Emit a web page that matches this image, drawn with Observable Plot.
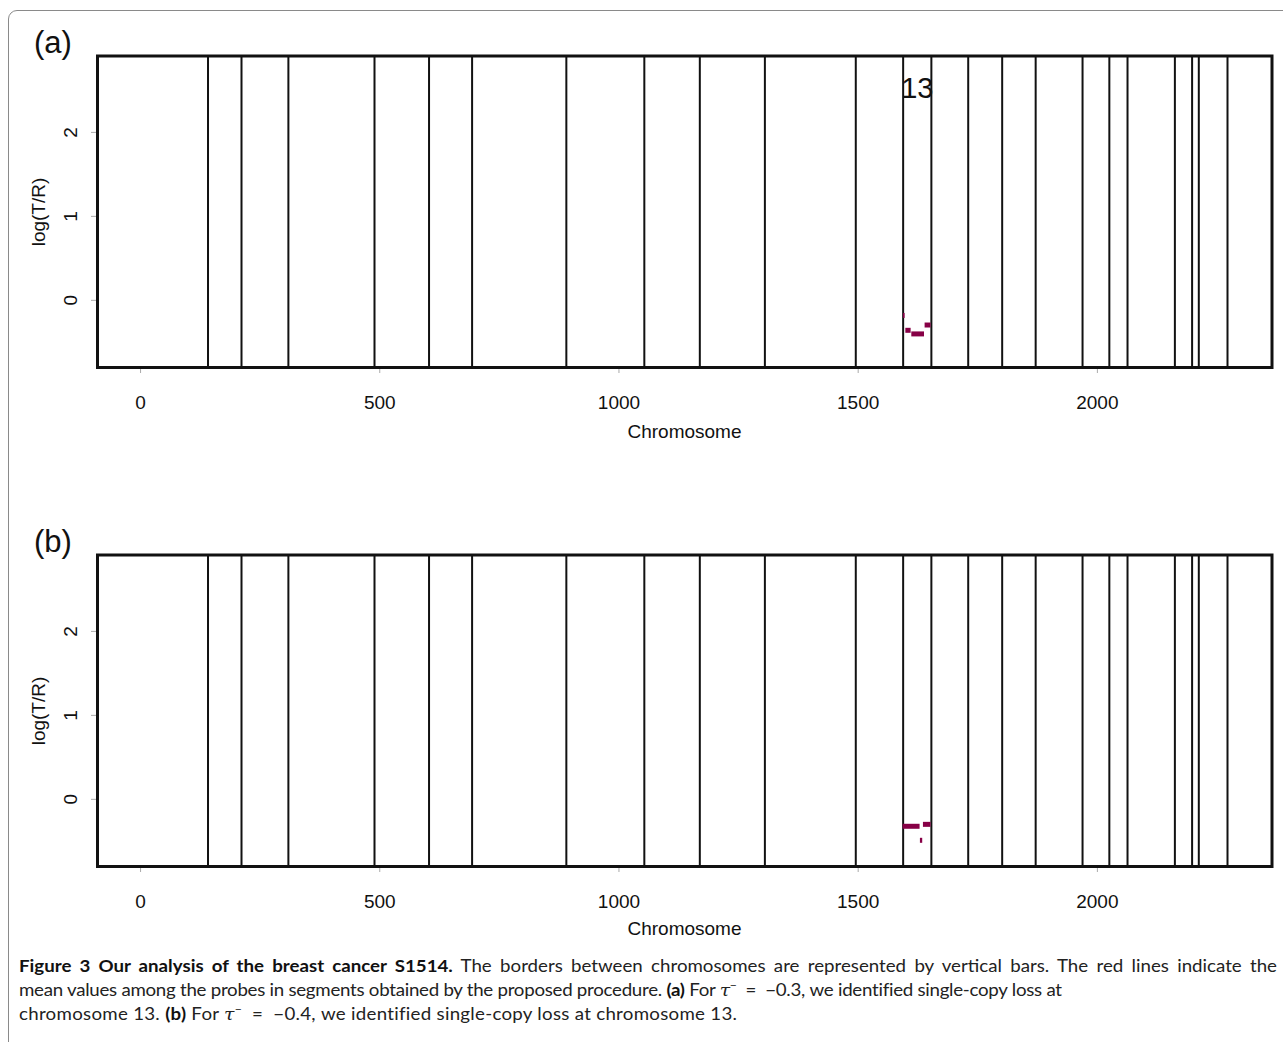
<!DOCTYPE html>
<html>
<head>
<meta charset="utf-8">
<script src="https://cdn.jsdelivr.net/npm/d3@7"></script>
<script src="https://cdn.jsdelivr.net/npm/@observablehq/plot@0.6"></script>
<style>
  html, body { margin: 0; padding: 0; background: #fff; }
  body { width: 1283px; height: 1042px; position: relative; overflow: hidden; font-family: "Liberation Sans", Arial, sans-serif; color: #111; }
  .outer { position: absolute; left: 8px; top: 10px; width: 1320px; height: 1080px; border: 1.5px solid #8a8a8a; border-radius: 9px; box-sizing: border-box; }
  .panel { position: absolute; left: 0; }
  .plab { position: absolute; font-size: 31px; line-height: 31px; left: 34px; color: #111; }
  .ylab { position: absolute; font-size: 19px; line-height: 19px; white-space: nowrap; transform: translate(-50%, -50%) rotate(-90deg); }
  .xlab { position: absolute; font-size: 19px; line-height: 19px; white-space: nowrap; transform: translate(-50%, -50%); }
  .caption { position: absolute; left: 19px; top: 954px; font-family: Lato, "Open Sans", sans-serif; font-size: 17px; line-height: 24px; color: #222; white-space: nowrap; transform-origin: 0 0; }
  .caption > div { display: inline-block; }
  .caption b { font-weight: 700; color: #111; }
  .tau { font-family: "DejaVu Serif", serif; font-style: italic; }
  .caption sup { font-size: 11px; vertical-align: 7px; line-height: 0; }
</style>
</head>
<body>
<div class="outer"></div>
<div class="panel" id="pa" style="top:0px"></div>
<div class="panel" id="pb" style="top:499px"></div>
<div class="plab" style="top:27px">(a)</div>
<div class="plab" style="top:526px">(b)</div>
<div class="ylab" style="left:38px; top:212px">log(T/R)</div>
<div class="ylab" style="left:38px; top:711px">log(T/R)</div>
<div class="xlab" style="left:684.5px; top:431px">Chromosome</div>
<div class="xlab" style="left:684.5px; top:928px">Chromosome</div>
<div class="caption" id="cap">
<div id="cap1"><b>Figure 3 Our analysis of the breast cancer S1514.</b> The borders between chromosomes are represented by vertical bars. The red lines indicate the</div><br>
<div id="cap2">mean values among the probes in segments obtained by the proposed procedure. <b>(a)</b> For <span class="tau">τ</span><sup>−</sup> &nbsp;= &nbsp;−0.3, we identified single-copy loss at</div><br>
<div id="cap3">chromosome 13. <b>(b)</b> For <span class="tau">τ</span><sup>−</sup> &nbsp;= &nbsp;−0.4, we identified single-copy loss at chromosome 13.</div>
</div>
<script>
// Chromosome borders (probe index at end of each chromosome 1..23)
const chromosomeEnds = [141, 211, 309, 489, 603, 693, 890, 1053, 1169, 1305, 1495, 1594, 1653, 1730, 1801, 1871, 1969, 2025, 2063, 2162, 2198, 2212, 2272];
const xTicks = [0, 500, 1000, 1500, 2000];
const yTicks = [0, 1, 2];

// Panel (a): tau- = -0.3 segments on chromosome 13
const segAStart = [1594.6, 1599.6, 1612.1, 1639.9];
const segAEnd   = [1598.1, 1610.7, 1638.7, 1652.4];
const segAMean  = [-0.18, -0.357, -0.40, -0.294];

// Panel (b): tau- = -0.4 segments on chromosome 13
const segBStart = [1593.9, 1630.1, 1636.4];
const segBEnd   = [1629.4, 1634.9, 1652.4];
const segBMean  = [-0.321, -0.488, -0.298];

// Chromosome label in panel (a)
const labelChrom = ["13"];
const labelY = [2.52];

const segColor = "#870046";

function panel(starts, ends, means, withLabel) {
  const segs = starts.map((s, i) => ({x1: s, x2: ends[i], y: means[i]}));
  const marks = [
    Plot.ruleX(chromosomeEnds, {stroke: "#111", strokeWidth: 2}),
    Plot.ruleY(segs, {x1: "x1", x2: "x2", y: "y", stroke: segColor, strokeWidth: 5, strokeLinecap: "butt"}),
    Plot.axisX({ticks: xTicks, tickSize: 6, tickPadding: 22, stroke: "#aaa", fill: "#111", label: null, tickFormat: d => String(d)}),
    Plot.axisY({ticks: yTicks, tickSize: 6, tickPadding: 15, tickRotate: -90, stroke: "#aaa", fill: "#111", label: null, tickFormat: d => String(d)}),
    Plot.frame({stroke: "#111", strokeWidth: 3})
  ];
  if (withLabel) {
    const i = 12; // chromosome 13
    const mid = (chromosomeEnds[i - 1] + chromosomeEnds[i]) / 2;
    marks.push(Plot.text(labelChrom, {x: () => mid, y: (d, j) => labelY[j], text: d => d, fontSize: 29, fill: "#111", lineAnchor: "middle"}));
  }
  return Plot.plot({
    width: 1283,
    height: 450,
    marginLeft: 97,
    marginRight: 11.5,
    marginTop: 55.5,
    marginBottom: 83,
    x: {domain: [-90, 2365]},
    y: {domain: [-0.8, 2.91]},
    style: {fontSize: "19px", fontFamily: "'Liberation Sans', Arial, sans-serif", background: "transparent", overflow: "visible"},
    marks
  });
}

document.getElementById("pa").appendChild(panel(segAStart, segAEnd, segAMean, true));
document.getElementById("pb").appendChild(panel(segBStart, segBEnd, segBMean, false));

// fit caption lines: lines 2 and 3 at natural width, line 1 justified
const cap = document.getElementById("cap");
const l1 = document.getElementById("cap1"), l2 = document.getElementById("cap2"), l3 = document.getElementById("cap3");
const w1 = l1.getBoundingClientRect().width, w2 = l2.getBoundingClientRect().width, w3 = l3.getBoundingClientRect().width;
const t1 = 1258, t2 = 1043, t3 = 718;
const s = (t2 / w2 + t3 / w3) / 2;
const n2 = l2.textContent.length - 1, n3 = l3.textContent.length - 1;
l2.style.letterSpacing = ((t2 / s - w2) / n2) + "px";
l3.style.letterSpacing = ((t3 / s - w3) / n3) + "px";
const spaces1 = (l1.textContent.match(/ /g) || []).length;
l1.style.wordSpacing = ((t1 / s - w1) / spaces1) + "px";
cap.style.transform = `scaleX(${s})`;
</script>
</body>
</html>
